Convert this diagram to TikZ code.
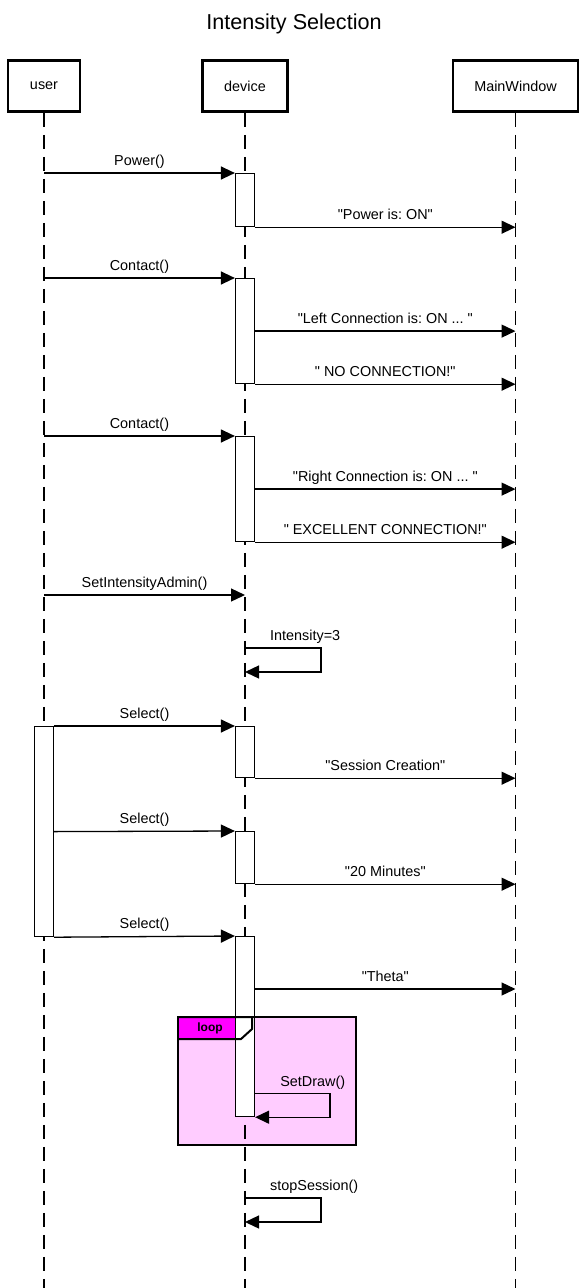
\documentclass[tikz,border=0pt]{standalone}
\usepackage{fontspec}
\setmainfont{Liberation Sans}[Ligatures=TeXOff]
\usetikzlibrary{arrows.meta, positioning, calc}
\definecolor{loopbg}{RGB}{255, 204, 255}
\definecolor{looptag}{RGB}{255, 0, 255}
\newcommand{\msgdots}{...}
\frenchspacing

\begin{document}
\begin{tikzpicture}[x=1pt, y=-1pt,
  party/.style={draw, line width=2.6pt, minimum height=51pt, inner sep=0pt, font=\fontsize{14.4}{17}\selectfont},
  lifeline/.style={line width=1.2pt, dash pattern=on 14pt off 8pt},
  act/.style={draw, line width=1.2pt, fill=white, minimum width=19pt, inner sep=0pt, anchor=north},
  msg/.style={line width=1.3pt, -{Triangle[length=14pt, width=13pt]}},
  lbl/.style={font=\fontsize{14.4}{17}\selectfont, inner sep=0pt, text height=10.5pt, text depth=3pt, above=4pt}]
  \useasboundingbox (0,0) rectangle (588,1288);
  \coordinate (bottom) at (0,1288);
  \node[font=\fontsize{21.6}{26}\selectfont] (title) at (294,24) {Intensity Selection};
  \node[party, minimum width=72pt] (user) at (44,86) {user};
  \node[party, minimum width=85pt] (device) at (245,86) {device};
  \node[party, minimum width=125pt] (mw) at (515.5,86) {MainWindow};

  \coordinate (loop-nw) at (178,1017);
  \coordinate (loop-se) at (356,1145);
  \fill[loopbg] (loop-nw) rectangle (loop-se);
  \fill[looptag] (178,1017) -- (252,1017) -- (252,1029) -- (241,1039) -- (178,1039) -- cycle;

  \foreach \p in {user, device, mw}
    \draw[lifeline] (\p.south) -- (\p |- bottom);

  \node[act, minimum height=53pt] (a1) at (245,173) {};
  \node[act, minimum height=105pt] (a2) at (245,278) {};
  \node[act, minimum height=105pt] (a3) at (245,436) {};
  \node[act, minimum height=210pt] (ua) at (44,726) {};
  \node[act, minimum height=51pt] (a4) at (245,726) {};
  \node[act, minimum height=52pt] (a5) at (245,831) {};
  \node[act, minimum height=180pt] (a6) at (245,936) {};

  \draw[line width=2pt] (loop-nw) rectangle (loop-se);
  \draw[line width=2pt] (178,1017) -- (252,1017) -- (252,1029) -- (241,1039) -- (178,1039);
  \node[font=\bfseries\fontsize{12}{14}\selectfont] (looplbl) at (210,1028) {loop};

  \foreach \to/\txt in {a1/Power(), a2/Contact(), a3/Contact()}
    \draw[msg] (user |- \to.north) -- node[lbl]{\txt} (\to.north west);
  \coordinate (t1) at ($(a6.north east)+(0,53)$);
  \foreach \from/\txt in {a1.south east/{"Power is: ON"}, a2.east/{"Left Connection is: ON \msgdots{} "},
      a2.south east/{" NO CONNECTION!"}, a3.east/{"Right Connection is: ON \msgdots{} "},
      a3.south east/{" EXCELLENT CONNECTION!"}, a4.south east/{"Session Creation"},
      a5.south east/{"20 Minutes"}, t1/{"Theta"}}
    \draw[msg] (\from) -- node[lbl]{\txt} (mw |- \from);

  \coordinate (c9) at (245,595);
  \draw[msg] (user |- c9) -- node[lbl]{SetIntensityAdmin()} (c9);

  \coordinate (s1) at (245,648);
  \coordinate (s1b) at (245,672);
  \draw[msg] (s1) -- ++(76,0) |- (s1b);
  \node[lbl, anchor=south west] (l-int) at ([xshift=25pt]s1) {Intensity=3};

  \draw[msg] (ua.north east) -- node[lbl]{Select()} (a4.north west);
  \draw[msg] (ua.east) -- node[lbl]{Select()} (a5.north west);
  \draw[msg] (ua.south east) -- node[lbl]{Select()} (a6.north west);

  \coordinate (s2) at ($(a6.south east)+(0,-24)$);
  \draw[msg] (s2) -- ++(75,0) |- (a6.south east);
  \node[lbl, anchor=south west] (l-draw) at ([xshift=25pt]s2) {SetDraw()};

  \coordinate (s3) at (245,1198);
  \coordinate (s3b) at (245,1222);
  \draw[msg] (s3) -- ++(76,0) |- (s3b);
  \node[lbl, anchor=south west] (l-stop) at ([xshift=25pt]s3) {stopSession()};
\end{tikzpicture}
\end{document}
